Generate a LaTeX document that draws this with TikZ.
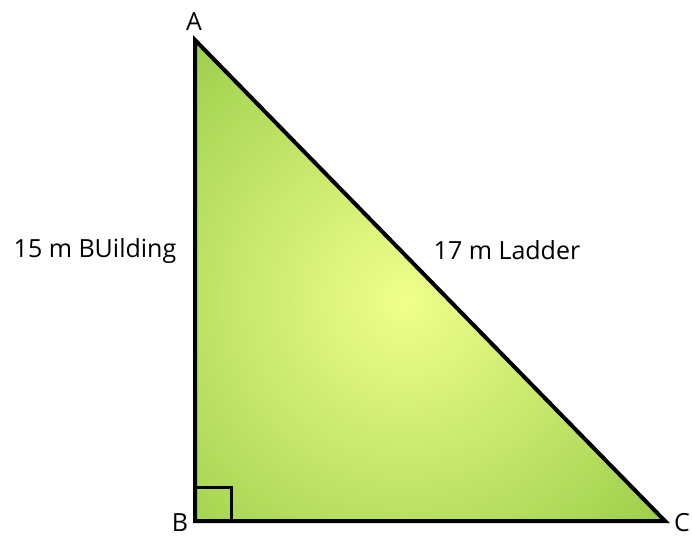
\documentclass[tikz,border=0pt]{standalone}
\usepackage{fontspec}
\setmainfont{Open Sans}
\definecolor{leafgreen}{RGB}{141,198,63}
\definecolor{paleyellow}{RGB}{240,255,140}

\begin{document}
\begin{tikzpicture}[
  x=1pt, y=-1pt,
  font=\fontsize{25}{29}\selectfont,
  side/.style={line width=4pt, line join=miter, draw=black},
  mark box/.style={line width=3pt, draw=black},
  vlabel/.style={inner sep=0pt},
  slabel/.style={inner sep=0pt}
]
\useasboundingbox (0,0) rectangle (692,538);

% --- Corners ---
\coordinate (A) at (195,40);
\coordinate (B) at (195,521);
\coordinate (C) at (665,521);

% --- Fill ---
\begin{scope}
  \clip (A) -- (B) -- (C) -- cycle;
  \shade[inner color=paleyellow, outer color=leafgreen] (405,300) circle (400);
\end{scope}

% --- Right angle mark ---
\draw[mark box] (195,487) -| (231,521);

% --- Sides ---
\draw[side] (A) -- (B) -- (C) -- cycle;

% --- Labels ---
\node[vlabel] (la) at (194,22) {A};
\node[vlabel] (lb) at (180,523) {B};
\node[vlabel] (lc) at (682,523) {C};
\node[slabel] (building) at (95,251) {15 m BUilding};
\node[slabel] (ladder) at (507,250) {17 m Ladder};

\end{tikzpicture}
\end{document}
